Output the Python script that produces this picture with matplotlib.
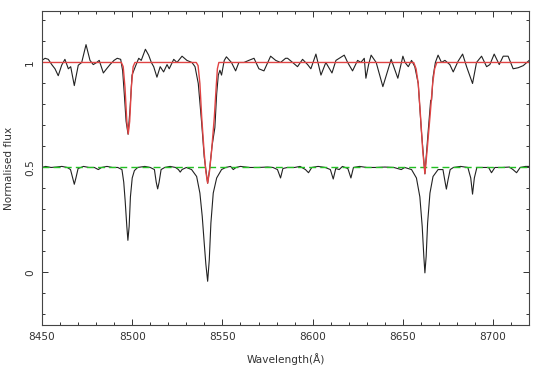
import matplotlib
matplotlib.use("Agg")
from matplotlib import pyplot as plt
from matplotlib.ticker import MultipleLocator

# top spectrum (normalised, continuum 1)
top_wl = [8450.0, 8451.7, 8453.5, 8455.4, 8457.2, 8459.0, 8460.9, 8462.7, 8464.6, 8465.9,
          8467.9, 8470.1, 8472.0, 8474.4, 8476.6, 8478.4, 8480.3, 8481.7, 8484.0, 8485.8,
          8487.7, 8489.9, 8491.7, 8493.6, 8494.7, 8495.6, 8496.6, 8497.7, 8498.8, 8499.9,
          8501.7, 8503.6, 8505.0, 8507.3, 8509.1, 8510.6, 8511.9, 8513.7, 8515.5, 8517.4,
          8519.3, 8520.5, 8523.0, 8524.8, 8527.6, 8530.3, 8533.1, 8534.8, 8536.6, 8538.5,
          8539.9, 8541.8, 8543.0, 8544.2, 8545.8, 8546.8, 8547.7, 8548.6, 8549.5, 8551.0,
          8552.2, 8555.0, 8557.3, 8559.1, 8561.9, 8564.6, 8567.5, 8570.2, 8573.0, 8576.7,
          8579.5, 8582.2, 8585.0, 8586.1, 8588.9, 8591.6, 8594.4, 8597.2, 8599.0, 8601.8,
          8604.6, 8607.3, 8610.7, 8612.9, 8614.7, 8617.5, 8619.4, 8622.1, 8624.9, 8626.7,
          8628.6, 8629.5, 8631.0, 8632.4, 8635.2, 8638.9, 8643.5, 8647.2, 8650.0, 8651.2,
          8653.0, 8654.8, 8656.6, 8658.5, 8660.2, 8662.2, 8663.9, 8665.4, 8665.9, 8666.7,
          8668.0, 8669.5, 8671.4, 8673.3, 8676.0, 8677.9, 8680.6, 8683.1, 8685.3, 8688.6,
          8690.8, 8693.6, 8696.4, 8698.2, 8700.6, 8703.4, 8705.6, 8708.3, 8711.1, 8713.9,
          8716.7, 8719.4, 8720.0]
top_flux = [1.01, 1.02, 1.015, 0.99, 0.97, 0.937, 0.987, 1.015, 0.97, 0.98,
            0.89, 0.987, 1.0, 1.085, 1.01, 0.99, 1.0, 1.01, 0.95, 0.97,
            0.99, 1.01, 1.02, 1.015, 0.96, 0.85, 0.72, 0.658, 0.78, 0.94,
            0.98, 1.02, 1.01, 1.063, 1.035, 1.0, 0.98, 0.93, 0.98, 0.955,
            0.99, 0.97, 1.015, 1.0, 1.03, 1.01, 1.0, 0.98, 0.90, 0.71,
            0.55, 0.425, 0.50, 0.60, 0.69, 0.85, 0.94, 0.963, 0.94, 1.01,
            1.027, 1.0, 0.96, 1.0, 1.0, 1.01, 1.02, 0.97, 0.96, 1.03,
            1.01, 1.0, 1.02, 1.02, 1.0, 0.98, 1.015, 0.99, 0.97, 1.04,
            0.94, 1.0, 0.95, 1.01, 1.02, 1.035, 1.0, 0.96, 1.01, 1.0,
            1.02, 0.925, 0.99, 1.035, 1.0, 0.885, 1.015, 0.925, 1.03, 1.0,
            0.98, 1.01, 0.98, 0.90, 0.68, 0.47, 0.66, 0.82, 0.82, 0.93,
            1.0, 1.035, 1.0, 1.01, 0.99, 0.955, 1.006, 1.04, 0.98, 0.90,
            1.0, 1.03, 0.98, 0.99, 1.04, 0.99, 1.03, 1.03, 0.97, 0.975,
            0.985, 1.006, 1.01]

# fitted model for the top spectrum
fit_wl = [8450.0, 8494.0, 8495.0, 8496.0, 8497.0, 8497.8, 8498.6, 8499.5, 8500.5, 8501.5,
          8535.5, 8536.5, 8537.5, 8538.5, 8539.8, 8540.8, 8541.8, 8542.8, 8544.0, 8545.5,
          8546.5, 8547.2, 8548.0, 8656.0, 8657.3, 8658.5, 8659.8, 8661.0, 8662.2, 8663.4,
          8665.0, 8666.5, 8667.6, 8668.8, 8720.0]
fit_flux = [1.0, 1.0, 0.98, 0.88, 0.72, 0.66, 0.72, 0.88, 0.98, 1.0,
            1.0, 0.985, 0.90, 0.74, 0.58, 0.48, 0.425, 0.48, 0.58, 0.74,
            0.88, 0.97, 1.0, 1.0, 0.97, 0.90, 0.74, 0.58, 0.47, 0.58,
            0.74, 0.90, 0.97, 1.0, 1.0]

# bottom spectrum (offset, continuum 0.5)
bot_wl = [8450, 8452, 8455, 8458, 8461, 8464, 8465.8, 8467, 8467.9, 8468.8,
          8470, 8473, 8476, 8479, 8481.2, 8483, 8486, 8489, 8492, 8494.3,
          8495.3, 8496.1, 8497.0, 8497.6, 8498.3, 8499.0, 8500.0, 8501.2, 8503.0, 8507,
          8510, 8512.3, 8513.3, 8514.1, 8514.9, 8516, 8518, 8521, 8524, 8525.6,
          8526.6, 8527.6, 8530, 8532.9, 8535.7, 8537.5, 8538.8, 8539.9, 8540.8, 8541.8,
          8542.7, 8543.6, 8544.9, 8546.8, 8549.5, 8551.8, 8554.5, 8556, 8557.5, 8560,
          8565, 8570, 8575, 8578, 8580.5, 8582.2, 8583.5, 8586, 8590, 8593,
          8596, 8597.7, 8599.5, 8603, 8607, 8609.8, 8611.4, 8612.8, 8614.7, 8616.5,
          8619.5, 8621.2, 8622.6, 8626, 8630, 8635, 8640, 8645, 8649.1, 8651,
          8654.8, 8657.5, 8659.4, 8660.7, 8661.6, 8662.2, 8662.9, 8663.7, 8665.0, 8666.7,
          8669.5, 8672.2, 8673.2, 8674.1, 8675.0, 8676.2, 8678, 8682, 8686, 8687.6,
          8688.6, 8689.6, 8691, 8695, 8697.5, 8699.1, 8701, 8705, 8709, 8711,
          8713, 8715, 8718, 8720]
bot_flux = [0.5, 0.505, 0.5, 0.502, 0.505, 0.5, 0.49, 0.45, 0.42, 0.45,
            0.495, 0.505, 0.5, 0.5, 0.49, 0.5, 0.505, 0.5, 0.5, 0.49,
            0.43, 0.34, 0.22, 0.153, 0.22, 0.36, 0.45, 0.485, 0.5, 0.505,
            0.5, 0.49, 0.43, 0.398, 0.43, 0.49, 0.5, 0.505, 0.5, 0.49,
            0.478, 0.49, 0.5, 0.49, 0.457, 0.378, 0.267, 0.14, 0.04, -0.042,
            0.06, 0.235, 0.378, 0.45, 0.49, 0.5, 0.505, 0.49, 0.5, 0.505,
            0.5, 0.5, 0.502, 0.5, 0.49, 0.45, 0.495, 0.5, 0.5, 0.505,
            0.49, 0.475, 0.5, 0.505, 0.5, 0.49, 0.445, 0.495, 0.49, 0.505,
            0.495, 0.45, 0.5, 0.505, 0.5, 0.5, 0.502, 0.5, 0.49, 0.5,
            0.49, 0.45, 0.36, 0.22, 0.077, -0.002, 0.077, 0.235, 0.378, 0.457,
            0.49, 0.49, 0.44, 0.397, 0.44, 0.49, 0.5, 0.505, 0.5, 0.45,
            0.373, 0.45, 0.5, 0.5, 0.5, 0.475, 0.5, 0.5, 0.502, 0.49,
            0.475, 0.5, 0.505, 0.505]

ref_wl = [8450, 8720]
ref_flux = [0.5, 0.5]

fig = plt.figure(figsize=(5.6, 3.68), dpi=100)
ax = fig.add_axes([0.075, 0.117, 0.87, 0.853])

ax.plot(bot_wl, bot_flux, color="#222222", lw=0.8)
ax.plot(top_wl, top_flux, color="#222222", lw=0.8)
ax.plot(ref_wl, ref_flux, color="#22c022", lw=1.0, dashes=(5, 3))
ax.plot(fit_wl, fit_flux, color="#e04444", lw=1.0)

ax.set_xlim(8450, 8720)
ax.set_ylim(-0.25, 1.245)
ax.xaxis.set_major_locator(MultipleLocator(50))
ax.xaxis.set_minor_locator(MultipleLocator(10))
ax.yaxis.set_major_locator(MultipleLocator(0.5))
ax.yaxis.set_minor_locator(MultipleLocator(0.1))
ax.yaxis.set_major_formatter(plt.FuncFormatter(lambda v, p: "%g" % v))

ax.tick_params(which="both", direction="in", top=True, right=True, color="#333333",
               labelsize=7.6, labelcolor="#333333", width=0.7)
ax.tick_params(which="major", length=4.5)
ax.tick_params(which="minor", length=2.5)
ax.tick_params(axis="x", pad=5)
ax.tick_params(axis="y", pad=5, labelrotation=90)
for lab in ax.get_yticklabels():
    lab.set_va("center")

for s in ax.spines.values():
    s.set_color("#444444")
    s.set_linewidth(0.8)

ax.set_xlabel("Wavelength(Å)", fontsize=7.6, color="#333333", labelpad=8)
ax.set_ylabel("Normalised flux", fontsize=7.6, color="#333333", labelpad=8)

fig.savefig("out.png", dpi=100)
